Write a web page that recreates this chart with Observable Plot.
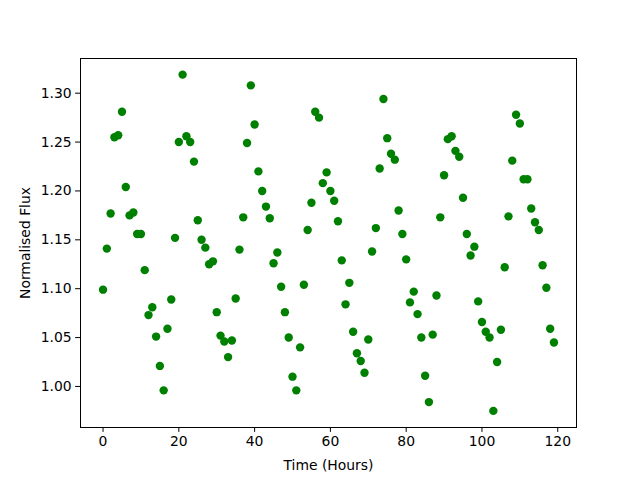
<!DOCTYPE html>
<html>
<head>
<meta charset="utf-8">
<script src="https://cdn.jsdelivr.net/npm/d3@7"></script>
<script src="https://cdn.jsdelivr.net/npm/@observablehq/plot@0.6"></script>
<style>
  html, body { margin: 0; padding: 0; background: #fff; }
</style>
</head>
<body>
<div id="chart"></div>
<script>
const hours = [0,1,2,3,4,5,6,7,8,9,10,11,12,13,14,15,16,17,18,19,20,21,22,23,24,25,26,27,28,29,
  30,31,32,33,34,35,36,37,38,39,40,41,42,43,44,45,46,47,48,49,50,51,52,53,54,55,56,57,58,59,
  60,61,62,63,64,65,66,67,68,69,70,71,72,73,74,75,76,77,78,79,80,81,82,83,84,85,86,87,88,89,
  90,91,92,93,94,95,96,97,98,99,100,101,102,103,104,105,106,107,108,109,110,111,112,113,114,115,116,117,118,119];
const flux = [1.099,1.141,1.177,1.255,1.257,1.281,1.204,1.175,1.178,1.156,
  1.156,1.119,1.073,1.081,1.051,1.021,0.996,1.059,1.089,1.152,
  1.250,1.319,1.256,1.250,1.230,1.170,1.150,1.142,1.125,1.128,
  1.076,1.052,1.046,1.030,1.047,1.090,1.140,1.173,1.249,1.308,
  1.268,1.220,1.200,1.184,1.172,1.126,1.137,1.102,1.076,1.050,
  1.010,0.996,1.040,1.104,1.160,1.188,1.281,1.275,1.208,1.219,
  1.200,1.190,1.169,1.129,1.084,1.106,1.056,1.034,1.026,1.014,
  1.048,1.138,1.162,1.223,1.294,1.254,1.238,1.232,1.180,1.156,
  1.130,1.086,1.097,1.074,1.050,1.011,0.984,1.053,1.093,1.173,
  1.216,1.253,1.256,1.241,1.235,1.193,1.156,1.134,1.143,1.087,
  1.066,1.056,1.050,0.975,1.025,1.058,1.122,1.174,1.231,1.278,
  1.269,1.212,1.212,1.182,1.168,1.160,1.124,1.101,1.059,1.045];
const xTicks = [0,20,40,60,80,100,120];
const yTicks = [1.00,1.05,1.10,1.15,1.20,1.25,1.30];
const xLabel = "Time (Hours)";
const yLabel = "Normalised Flux";

const data = hours.map((h, i) => ({h, f: flux[i]}));

const chart = Plot.plot({
  width: 640,
  height: 480,
  marginLeft: 80,
  marginRight: 64,
  marginTop: 58,
  marginBottom: 53,
  style: {fontFamily: "DejaVu Sans", fontSize: "13.9px", color: "#000", background: "#fff"},
  x: {domain: [-5.95, 124.95]},
  y: {domain: [0.958, 1.3355]},
  marks: [
    Plot.frame({stroke: "#000", strokeWidth: 1}),
    Plot.axisX({ticks: xTicks, tickSize: 4.9, tickPadding: 4, tickFormat: d => String(d),
      label: xLabel, labelAnchor: "center", labelArrow: "none", labelOffset: 42,
      stroke: "#000", color: "#000"}),
    Plot.axisY({ticks: yTicks, tickSize: 4.9, tickPadding: 4, tickFormat: d3.format(".2f"),
      label: yLabel, labelAnchor: "center", labelArrow: "none", labelOffset: 60,
      stroke: "#000", color: "#000"}),
    Plot.dot(data, {x: "h", y: "f", r: 4.2, fill: "#008000", stroke: "none"})
  ]
});
document.getElementById("chart").appendChild(chart);
</script>
</body>
</html>
